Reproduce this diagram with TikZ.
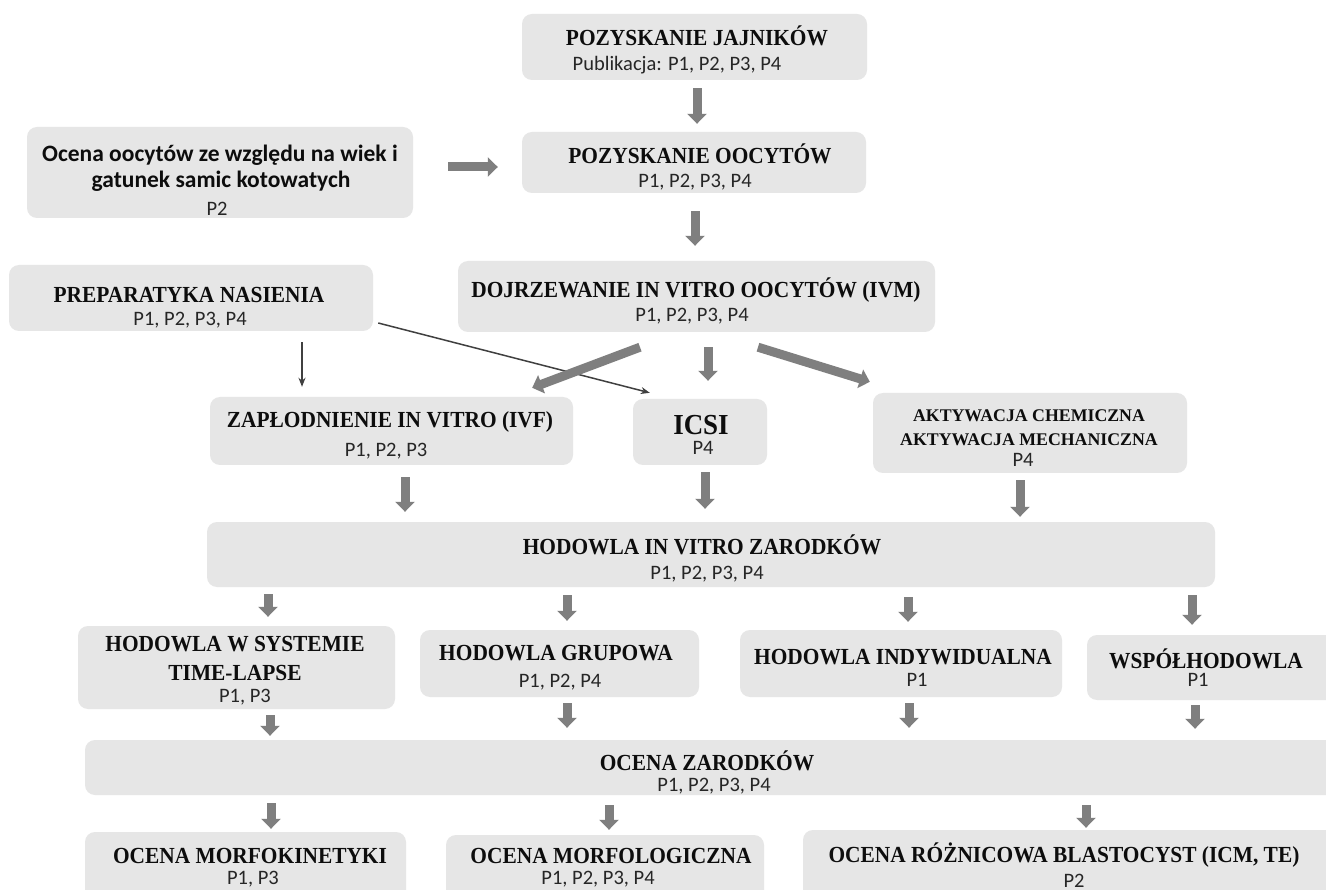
\documentclass[tikz,border=0pt]{standalone}
\usepackage{fontspec}
\usetikzlibrary{arrows.meta,calc}
\setmainfont{Liberation Serif}
\newfontfamily\tfont[FakeStretch=0.93]{Liberation Serif}
\newfontfamily\afont{Liberation Serif}
\newfontfamily\sfont{Carlito}
\definecolor{boxgray}{HTML}{E6E6E6}
\definecolor{arrowgray}{HTML}{7F7F7F}
\definecolor{thingray}{HTML}{404040}
\definecolor{titlec}{HTML}{0D0D0D}
\definecolor{subc}{HTML}{262626}
\tikzset{
  box/.style={fill=boxgray, draw=none, rounded corners=10pt, inner sep=0pt},
  wh/.style 2 args={minimum width=#1pt, minimum height=#2pt},
  ttl/.style={anchor=base, inner sep=0pt, text=titlec, font=\tfont\bfseries\fontsize{23}{27}\selectfont},
  akl/.style={anchor=base, inner sep=0pt, text=titlec, font=\afont\bfseries\fontsize{17.8}{21}\selectfont},
  bigt/.style={anchor=base, inner sep=0pt, text=titlec, font=\tfont\bfseries\fontsize{29}{33}\selectfont},
  sub/.style={anchor=base, inner sep=0pt, text=subc, font=\sfont\fontsize{20.5}{24}\selectfont},
  cal/.style={anchor=base, inner sep=0pt, text=titlec, font=\sfont\bfseries\fontsize{23.5}{28}\selectfont},
  blk/.style={draw=arrowgray, line width=9pt, -{Triangle[length=10pt,width=19pt]}},
  thin/.style={draw=thingray, line width=1.5pt, -{Stealth[length=9pt,width=7pt]}}
}
\begin{document}
\begin{tikzpicture}[x=1pt,y=-1pt]
\useasboundingbox (0,0) rectangle (1326,890);
\clip (0,0) rectangle (1326,890);
\fill[white] (0,0) rectangle (1326,890);
% boxes
\node[box, wh={345}{66}]  (jaj)  at (694.5,47) {};
\node[box, wh={344}{61}]  (ooc)  at (694,162.5) {};
\node[box, wh={386}{91}]  (oce)  at (220,172.5) {};
\node[box, wh={477}{71}]  (doj)  at (696.5,296.5) {};
\node[box, wh={364}{66}]  (prep) at (191,298) {};
\node[box, wh={363}{68}]  (ivf)  at (391.5,431) {};
\node[box, wh={134}{66}]  (icsi) at (700,432) {};
\node[box, wh={314}{80}]  (akt)  at (1030,433) {};
\node[box, wh={1008}{65}] (hiv)  at (711,554.5) {};
\node[box, wh={317}{83}]  (tl)   at (236.5,667.5) {};
\node[box, wh={279}{67}]  (grp)  at (559.5,663.5) {};
\node[box, wh={322}{67}]  (ind)  at (901,663.5) {};
\node[box, wh={258}{65}]  (wsp)  at (1216,667.5) {};
\node[box, wh={1260}{55}] (oz)   at (715,767.5) {};
\node[box, wh={321}{78}]  (mk)   at (245.5,871) {};
\node[box, wh={318}{75}]  (ml)   at (605,872.5) {};
\node[box, wh={542}{80}]  (rb)   at (1074,870) {};
% texts
\node[ttl] (jaj-t) at (697,46) {POZYSKANIE JAJNIKÓW};
\node[sub] (jaj-s) at (677,71) {Publikacja: P1, P2, P3, P4};
\node[ttl] (ooc-t) at (700,164) {POZYSKANIE OOCYTÓW};
\node[sub] (ooc-s) at (695,188) {P1, P2, P3, P4};
\node[cal] (oce-a) at (220,162) {Ocena oocytów ze względu na wiek i};
\node[cal] (oce-b) at (221,188) {gatunek samic kotowatych};
\node[sub] (oce-s) at (217,216) {P2};
\node[ttl] (doj-t) at (696,298) {DOJRZEWANIE IN VITRO OOCYTÓW (IVM)};
\node[sub] (doj-s) at (692,322) {P1, P2, P3, P4};
\node[ttl] (prep-t) at (189,303) {PREPARATYKA NASIENIA};
\node[sub] (prep-s) at (190,326) {P1, P2, P3, P4};
\node[ttl] (ivf-t) at (390,428) {ZAPŁODNIENIE IN VITRO (IVF)};
\node[sub] (ivf-s) at (386,457) {P1, P2, P3};
\node[bigt] (icsi-t) at (701,435) {ICSI};
\node[sub] (icsi-s) at (703,455) {P4};
\node[akl] (akt-a) at (1029,422) {AKTYWACJA CHEMICZNA};
\node[akl] (akt-b) at (1029,446) {AKTYWACJA MECHANICZNA};
\node[sub] (akt-s) at (1023,467) {P4};
\node[ttl] (hiv-t) at (702,554) {HODOWLA IN VITRO ZARODKÓW};
\node[sub] (hiv-s) at (707,579) {P1, P2, P3, P4};
\node[ttl] (tl-a) at (235,651) {HODOWLA W SYSTEMIE};
\node[ttl] (tl-b) at (235,680) {TIME-LAPSE};
\node[sub] (tl-s) at (245,702) {P1, P3};
\node[ttl] (grp-t) at (556,660) {HODOWLA GRUPOWA};
\node[sub] (grp-s) at (560,687) {P1, P2, P4};
\node[ttl] (ind-t) at (903,664) {HODOWLA INDYWIDUALNA};
\node[sub] (ind-s) at (917,686) {P1};
\node[ttl] (wsp-t) at (1206,668) {WSPÓŁHODOWLA};
\node[sub] (wsp-s) at (1198,686) {P1};
\node[ttl] (oz-t) at (707,770) {OCENA ZARODKÓW};
\node[sub] (oz-s) at (714,791) {P1, P2, P3, P4};
\node[ttl] (mk-t) at (250,863) {OCENA MORFOKINETYKI};
\node[sub] (mk-s) at (253,884) {P1, P3};
\node[ttl] (ml-t) at (611,863) {OCENA MORFOLOGICZNA};
\node[sub] (ml-s) at (598,884) {P1, P2, P3, P4};
\node[ttl] (rb-t) at (1064,862) {OCENA RÓŻNICOWA BLASTOCYST (ICM, TE)};
\node[sub] (rb-s) at (1074,887) {P2};
% connectors
\draw[blk] ($(jaj.south)+(2.5,8)$) -- ($(ooc.north)+(3,-8)$);
\draw[blk] ($(ooc.south)+(1,18)$) -- ($(doj.north)+(-1.5,-15)$);
\draw[blk] ($(oce.east)+(35,-5.5)$) -- ($(ooc.west)+(-24,4.5)$);
\draw[thin] ($(prep.south)+(111,11)$) -- ($(ivf.north)+(-89.5,-10)$);
\draw[thin] ($(prep.east)+(5,25)$) -- ($(icsi.north west)+(17,-6)$);
\draw[blk] ($(doj.south)+(-56.5,15)$) -- ($(ivf.north east)+(-41,-9)$);
\draw[blk] ($(doj.south)+(11.5,15)$) -- ($(icsi.north)+(8,-18)$);
\draw[blk] ($(doj.south)+(61.5,15)$) -- ($(akt.north west)+(-3,-11)$);
\draw[blk] ($(ivf.south)+(13.5,12)$) -- ($(hiv.north)+(-306,-10)$);
\draw[blk] ($(icsi.south)+(5,7)$) -- ($(hiv.north)+(-6,-13)$);
\draw[blk] ($(akt.south)+(-10,7)$) -- ($(hiv.north)+(309,-5)$);
\draw[blk] ($(hiv.south)+(-443,7)$) -- ($(tl.north)+(31.5,-9)$);
\draw[blk] ($(hiv.south)+(-144,8)$) -- ($(grp.north)+(7.5,-9)$);
\draw[blk] ($(hiv.south)+(197,10)$) -- ($(ind.north)+(7,-8)$);
\draw[blk] ($(hiv.south)+(481,8)$) -- ($(wsp.north)+(-24,-10)$);
\draw[blk] ($(tl.south)+(33.5,6)$) -- ($(oz.north)+(-445,-4)$);
\draw[blk] ($(grp.south)+(7.5,6)$) -- ($(oz.north)+(-148,-12)$);
\draw[blk] ($(ind.south)+(8,6)$) -- ($(oz.north)+(194,-12)$);
\draw[blk] ($(wsp.south)+(-21,5)$) -- ($(oz.north)+(480,-11)$);
\draw[blk] ($(oz.south)+(-444,8)$) -- ($(mk.north)+(25.5,-3)$);
\draw[blk] ($(oz.south)+(-106,10)$) -- ($(ml.north)+(4,-5)$);
\draw[blk] ($(oz.south)+(371,10)$) -- ($(rb.north)+(12,-2)$);
\end{tikzpicture}
\end{document}
